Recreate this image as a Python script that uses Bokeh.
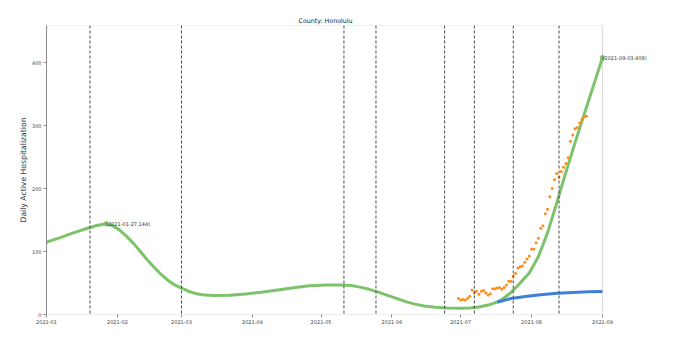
import pandas as pd
from bokeh.plotting import figure
from bokeh.models import Range1d, FixedTicker, Span, Label, BoxAnnotation
from bokeh.embed import file_html
from bokeh.resources import INLINE

# ---- data ----
title_text = "County: Honolulu"
y_label = "Daily Active Hospitalization"

green_dates = ["2021-01-01", "2021-01-07", "2021-01-13", "2021-01-19", "2021-01-23",
               "2021-01-27", "2021-01-30", "2021-02-02", "2021-02-05", "2021-02-08",
               "2021-02-11", "2021-02-14", "2021-02-17", "2021-02-20", "2021-02-23",
               "2021-02-26", "2021-03-01", "2021-03-04", "2021-03-07", "2021-03-10",
               "2021-03-15", "2021-03-22", "2021-03-29", "2021-04-05", "2021-04-12",
               "2021-04-19", "2021-04-26", "2021-05-03", "2021-05-10", "2021-05-14",
               "2021-05-18", "2021-05-22", "2021-05-26", "2021-05-30", "2021-06-03",
               "2021-06-07", "2021-06-11", "2021-06-15", "2021-06-20", "2021-06-25",
               "2021-06-30", "2021-07-05", "2021-07-09", "2021-07-13", "2021-07-16",
               "2021-07-19", "2021-07-23", "2021-07-27", "2021-07-31", "2021-08-04",
               "2021-08-08", "2021-08-12", "2021-08-16", "2021-08-20", "2021-08-24",
               "2021-08-28", "2021-09-01"]
green_vals = [115, 122, 130, 137, 141.5,
              144, 141, 134, 124, 113,
              100, 87, 75, 64, 54.5,
              47, 42, 37, 33.5, 31.5,
              30, 30.5, 32.5, 35.5, 39,
              42.5, 45.5, 47, 47, 46,
              43.5, 40, 35.5, 30.5, 25.5,
              20.5, 16.5, 13.5, 11.5, 10.5,
              10, 10.5, 12, 15, 18.5,
              23.5, 35, 50, 66, 92,
              130, 177, 226, 273, 318,
              363, 408]

blue_dates = ["2021-07-17", "2021-07-20", "2021-07-23", "2021-07-27", "2021-07-30",
              "2021-08-05", "2021-08-12", "2021-08-19", "2021-08-26", "2021-09-01"]
blue_vals = [19.5, 22.5, 25.5, 27.5, 29, 31.5, 33.8, 35, 36, 36.5]

orange_start = "2021-06-30"
orange_vals = [26, 23, 24, 23, 26, 29, 39, 34, 37, 32,
               37, 38, 34, 31, 33, 41, 41, 42, 43, 40,
               43, 47, 53, 53, 61, 65, 74, 76, 77, 83,
               88, 93, 104, 104, 114, 121, 137, 141, 160, 167,
               187, 200, 214, 224, 218, 227, 234, 240, 249, 275,
               285, 295, 297, 304, 310, 314, 315]

vline_dates = ["2021-01-20", "2021-03-01", "2021-05-11", "2021-05-25",
               "2021-06-24", "2021-07-07", "2021-07-24", "2021-08-13"]

annot_dates = ["2021-01-27", "2021-09-01"]
annot_vals = [144, 408]
annot_texts = ["(2021-01-27,144)", "(2021-09-03,408)"]

x_tick_dates = ["2021-01-01", "2021-02-01", "2021-03-01", "2021-04-01", "2021-05-01",
                "2021-06-01", "2021-07-01", "2021-08-01", "2021-09-01"]
x_tick_labels = ["2021-01", "2021-02", "2021-03", "2021-04", "2021-05",
                 "2021-06", "2021-07", "2021-08", "2021-09"]
y_ticks = [0, 100, 200, 300, 400]
y_max = 459

# ---- helpers ----
EPOCH = pd.Timestamp("1970-01-01")


def to_ms(d):
    return int((pd.Timestamp(d) - EPOCH) / pd.Timedelta("1ms"))


FONT = "DejaVu Sans"
SPINE = "#8a8a8a"

# axes box: 556 px wide; the drawing area is widened to 604 px so the
# right-hand annotation text is not clipped
x0 = to_ms(x_tick_dates[0])
x1 = to_ms(x_tick_dates[-1])
box_px, frame_px = 556, 604
x_end = x0 + (x1 - x0) * frame_px / box_px

p = figure(width=674, height=343, output_backend="svg", toolbar_location=None,
           x_axis_type="datetime",
           x_range=Range1d(x0, x_end),
           y_range=Range1d(0, y_max),
           min_border_left=46, min_border_right=674 - 46 - frame_px,
           min_border_top=25, min_border_bottom=29)

p.title.text = title_text
p.title.align = "left"
p.title.offset = 252
p.title.text_font = FONT
p.title.text_font_style = "normal"
p.title.text_font_size = "6.3px"
p.title.text_color = "#222222"
p.title.standoff = 3

p.grid.visible = False
p.outline_line_color = None

tick_ms = [to_ms(d) for d in x_tick_dates]
p.xaxis.ticker = FixedTicker(ticks=tick_ms)
p.xaxis.major_label_overrides = {t: lab for t, lab in zip(tick_ms, x_tick_labels)}
p.yaxis.ticker = FixedTicker(ticks=y_ticks)

for ax in (p.xaxis, p.yaxis):
    ax.axis_line_color = SPINE
    ax.major_tick_line_color = SPINE
    ax.major_tick_out = 3
    ax.major_tick_in = 0
    ax.minor_tick_out = 0
    ax.minor_tick_in = 0
    ax.major_label_text_font = FONT
    ax.major_label_text_font_size = "5px"
    ax.major_label_text_color = "#444444"
    ax.major_label_standoff = 2
p.xaxis.axis_line_color = None

p.yaxis.axis_label = y_label
p.yaxis.axis_label_text_font = FONT
p.yaxis.axis_label_text_font_size = "7.7px"
p.yaxis.axis_label_text_font_style = "normal"
p.yaxis.axis_label_text_color = "#333333"
p.yaxis.axis_label_standoff = 1

# axes box (spines)
p.add_layout(BoxAnnotation(left=x0, right=x1, bottom=0, top=y_max,
                           fill_alpha=0, line_color=SPINE, line_width=1.2))

# green fitted curve
g_x = pd.to_datetime(green_dates)
p.line(g_x, green_vals, line_color="#7dc36b", line_width=3, line_join="round")

# blue curve
b_x = pd.to_datetime(blue_dates)
p.line(b_x, blue_vals, line_color="#3f7fd9", line_width=3, line_join="round")

# orange observations
o_x = pd.date_range(orange_start, periods=len(orange_vals), freq="D")
p.scatter(o_x, orange_vals, size=3, color="#ff8c1a", line_width=0)

# vertical dashed lines
for d in vline_dates:
    p.add_layout(Span(location=to_ms(d), dimension="height", line_color="#4a4a4a",
                      line_dash="3 2", line_width=1))

# annotation markers and texts
a_x = pd.to_datetime(annot_dates)
p.scatter(a_x, annot_vals, size=5, color="#7dc36b", line_width=0)
for d, v, t in zip(annot_dates, annot_vals, annot_texts):
    p.add_layout(Label(x=to_ms(d), y=v, text=t, text_font=FONT, text_font_size="5px",
                       text_color="#333333", text_baseline="alphabetic", text_align="left"))

open("out.html", "w").write(file_html(p, INLINE))
